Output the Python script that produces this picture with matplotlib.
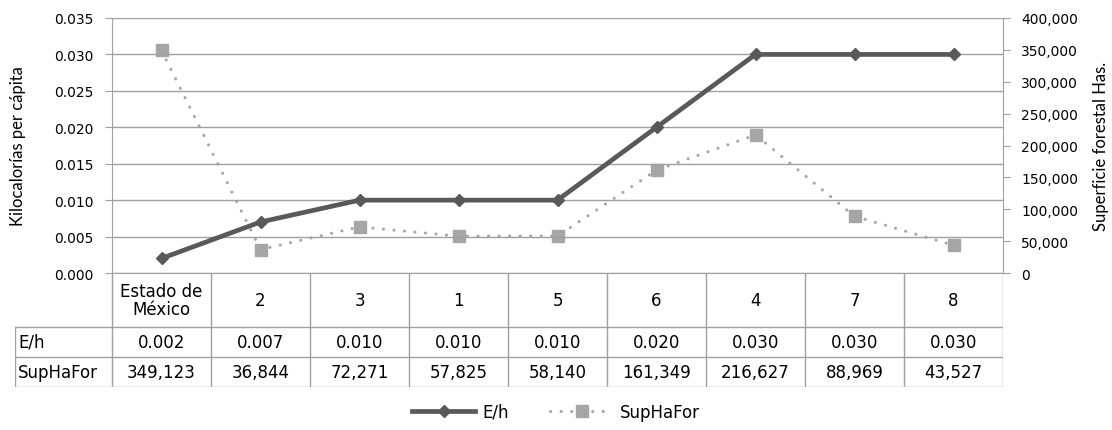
import numpy as np
import matplotlib
matplotlib.use("Agg")
import matplotlib.pyplot as plt
from matplotlib.ticker import FuncFormatter, MultipleLocator

# data
categories = ["Estado de\nMéxico", "2", "3", "1", "5", "6", "4", "7", "8"]
eh = [0.002, 0.007, 0.010, 0.010, 0.010, 0.020, 0.030, 0.030, 0.030]
sup_ha_for = [349123, 36844, 72271, 57825, 58140, 161349, 216627, 88969, 43527]
eh_labels = ["0.002", "0.007", "0.010", "0.010", "0.010", "0.020", "0.030", "0.030", "0.030"]
sup_labels = ["349,123", "36,844", "72,271", "57,825", "58,140", "161,349", "216,627", "88,969", "43,527"]

W, H = 1112, 431
dark = "#595959"
light = "#a6a6a6"
grid_c = "#a0a0a0"
tick_font = "DejaVu Sans"
label_font = "Lato"

fig = plt.figure(figsize=(W / 100, H / 100), dpi=100)

# plot area in pixels
px_l, px_r, px_t, px_b = 112, 1003, 19, 274
ax = fig.add_axes([px_l / W, 1 - px_b / H, (px_r - px_l) / W, (px_b - px_t) / H])
x = np.arange(len(categories))
ax.set_xlim(-0.5, len(categories) - 0.5)
ax.set_ylim(0, 0.035)
ax.yaxis.set_major_locator(MultipleLocator(0.005))
ax.yaxis.set_major_formatter(FuncFormatter(lambda v, p: f"{v:.3f}"))
ax.set_xticks([])
ax.grid(axis="y", color=grid_c, lw=1)
ax.set_axisbelow(True)
for s in ["top", "right"]:
    ax.spines[s].set_visible(False)
ax.spines["left"].set_color(grid_c)
ax.spines["bottom"].set_color(grid_c)
ax.tick_params(axis="y", length=5, color=grid_c, labelsize=10, pad=8)
for t in ax.get_yticklabels():
    t.set_fontfamily(tick_font)
ax.set_ylabel("Kilocalorías per cápita", family=label_font, fontsize=12)
ax.yaxis.set_label_coords(-(px_l - 26) / (px_r - px_l), 0.5)

ax2 = ax.twinx()
ax2.set_ylim(0, 400000)
ax2.yaxis.set_major_locator(MultipleLocator(50000))
ax2.yaxis.set_major_formatter(FuncFormatter(lambda v, p: f"{int(v):,}"))
for s in ["top", "left", "bottom"]:
    ax2.spines[s].set_visible(False)
ax2.spines["right"].set_color(grid_c)
ax2.tick_params(axis="y", length=5, color=grid_c, labelsize=10, pad=8)
for t in ax2.get_yticklabels():
    t.set_fontfamily(tick_font)
ax2.set_ylabel("Superficie forestal Has.", family=label_font, fontsize=12)
ax2.yaxis.set_label_coords(1 + (1093 - px_r) / (px_r - px_l), 0.5)

l2, = ax2.plot(x, sup_ha_for, color=light, lw=2.2, ls=(0, (0.05, 3.4)), dash_capstyle="round",
               marker="s", ms=9, mfc=light, mec=light, label="SupHaFor")
l1, = ax.plot(x, eh, color=dark, lw=3.4, marker="D", ms=6.5, mfc=dark, mec=dark, label="E/h")
ax.set_zorder(ax2.get_zorder() + 1)
ax.patch.set_visible(False)

# data table under the plot
tb_l, tb_b = 15, 388
hdr_b, row1_b = 328, 358
lab_w = (px_l - tb_l) / 99.0
tab = fig.add_axes([tb_l / W, 1 - tb_b / H, (px_r - tb_l) / W, (tb_b - px_b) / H])
tab.set_xlim(-0.5 - lab_w, len(categories) - 0.5)
tab.set_ylim(tb_b, px_b)
tab.axis("off")
lk = dict(color=grid_c, lw=1)
for b in np.arange(len(categories) + 1) - 0.5:
    tab.plot([b, b], [px_b, tb_b], **lk)
left_edge = -0.5 - lab_w
tab.plot([left_edge, left_edge], [hdr_b, tb_b], **lk)
for yy in [hdr_b, row1_b, tb_b]:
    tab.plot([left_edge, len(categories) - 0.5], [yy, yy], **lk)
tfs = 12
for i, c in enumerate(categories):
    tab.text(i, (px_b + hdr_b) / 2, c, ha="center", va="center", fontsize=tfs,
             family=tick_font, linespacing=1.0)
    tab.text(i, (hdr_b + row1_b) / 2, eh_labels[i], ha="center", va="center",
             fontsize=tfs, family=tick_font)
    tab.text(i, (row1_b + tb_b) / 2, sup_labels[i], ha="center", va="center",
             fontsize=tfs, family=tick_font)
tab.text(left_edge + 0.03, (hdr_b + row1_b) / 2, "E/h", ha="left", va="center",
         fontsize=tfs, family=tick_font)
tab.text(left_edge + 0.03, (row1_b + tb_b) / 2, "SupHaFor", ha="left", va="center",
         fontsize=tfs, family=tick_font)

fig.legend(handles=[l1, l2], loc="center", bbox_to_anchor=(556 / W, 1 - 413 / H),
           ncol=2, frameon=False, prop={"family": tick_font, "size": 12},
           handlelength=3.8, columnspacing=2.5, handletextpad=0.4)

fig.savefig("out.png", dpi=100)
